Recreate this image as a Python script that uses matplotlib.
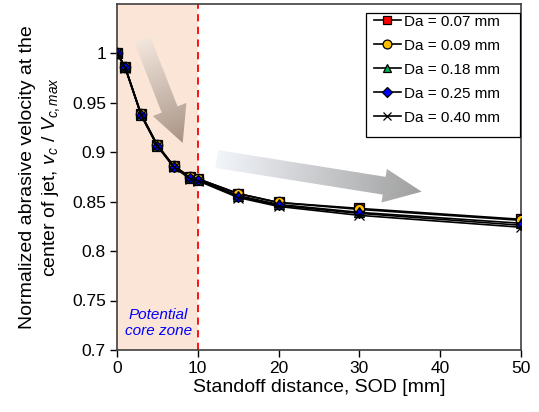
import numpy as np
import matplotlib
matplotlib.use("Agg")
import matplotlib.pyplot as plt
from matplotlib.patches import Polygon, Rectangle
from matplotlib.colors import LinearSegmentedColormap

plt.rcParams['font.family'] = ['Liberation Sans', 'DejaVu Sans']
plt.rcParams['mathtext.fontset'] = 'custom'
plt.rcParams['mathtext.it'] = 'Liberation Sans:italic'
plt.rcParams['mathtext.rm'] = 'Liberation Sans'

# ---------------- data ----------------
sod = [0, 1, 3, 5, 7, 9, 10, 15, 20, 30, 50]
v_007 = [1.000, 0.986, 0.938, 0.907, 0.886, 0.875, 0.873, 0.858, 0.849, 0.843, 0.832]
v_009 = [1.000, 0.986, 0.938, 0.907, 0.886, 0.875, 0.873, 0.858, 0.849, 0.842, 0.831]
v_018 = [1.000, 0.986, 0.937, 0.906, 0.886, 0.874, 0.872, 0.856, 0.847, 0.839, 0.828]
v_025 = [1.000, 0.986, 0.937, 0.906, 0.885, 0.874, 0.872, 0.855, 0.846, 0.838, 0.826]
v_040 = [1.000, 0.985, 0.937, 0.906, 0.885, 0.873, 0.871, 0.854, 0.845, 0.836, 0.824]
labels = ['Da = 0.07 mm', 'Da = 0.09 mm', 'Da = 0.18 mm', 'Da = 0.25 mm', 'Da = 0.40 mm']
xticks = [0, 10, 20, 30, 40, 50]
yticks = [0.7, 0.75, 0.8, 0.85, 0.9, 0.95, 1.0]
ytick_labels = ['0.7', '0.75', '0.8', '0.85', '0.9', '0.95', '1']
core_end = 10

W, H = 539, 412
fig = plt.figure(figsize=(W / 100, H / 100), dpi=100)
ax = fig.add_axes([117 / W, 1 - 350 / H, (521 - 117) / W, (350 - 3.5) / H])

ax.axvspan(0, core_end, color='#FBE5D6', zorder=0, lw=0)
ax.axvline(core_end, color='#FF0000', ls=(0, (4, 3)), lw=1.3, zorder=1)

styles = [
    dict(marker='s', mfc='#FF0000', ms=7.5),
    dict(marker='o', mfc='#FFC000', ms=7.5),
    dict(marker='^', mfc='#00B050', ms=7.5),
    dict(marker='D', mfc='#0000FF', ms=5.5),
    dict(marker='x', mfc='black', ms=7.5),
]
series = [v_007, v_009, v_018, v_025, v_040]
for vals, st, lab in zip(series, styles, labels):
    ax.plot(sod, vals, color='black', lw=1.2, mec='black', mew=0.9, label=lab,
            zorder=3, **st)

ax.set_xlim(0, 50)
ax.set_ylim(0.7, 1.05)
ax.set_xticks(xticks)
ax.set_yticks(yticks)
ax.set_yticklabels(ytick_labels)
ax.tick_params(direction='out', length=5, width=1, labelsize=12.5, pad=3, colors='black')
for s in ax.spines.values():
    s.set_color('#404040')
    s.set_linewidth(1.2)

ax.set_xlabel('Standoff distance, SOD [mm]', fontsize=14, labelpad=2)
ax.set_ylabel('Normalized abrasive velocity at the\ncenter of jet, $v_c$ / $V_{c,max}$',
              fontsize=14, labelpad=7, linespacing=1.3)

ax.text(5.1, 0.7275, 'Potential\ncore zone', color='#0000FF', style='italic',
        fontsize=11, ha='center', va='center', linespacing=1.15, zorder=2)

# ---------------- overlay in pixel coords ----------------
ov = fig.add_axes([0, 0, 1, 1], zorder=5)
ov.set_xlim(0, W)
ov.set_ylim(H, 0)
ov.axis('off')
ov.patch.set_alpha(0)

# legend (manual frame, Excel-like padding)
handles, labs = ax.get_legend_handles_labels()
leg = ov.legend(handles, labs, loc='upper left', bbox_to_anchor=(374 / W, 1 - 14.5 / H),
                bbox_transform=fig.transFigure, borderaxespad=0, borderpad=0,
                fontsize=11, frameon=False, handlelength=1.75, handletextpad=0.2,
                labelspacing=0.66, markerscale=0.85)
ov.add_patch(Rectangle((366, 13), 154, 124, fc='white', ec='black', lw=0.9, zorder=1))
leg.set_zorder(3)


def grad_arrow(tail, tip, w, hw, hl, c0, c1):
    p0 = np.array(tail, float)
    p1 = np.array(tip, float)
    d = p1 - p0
    L = np.hypot(*d)
    u = d / L
    n = np.array([-u[1], u[0]])
    b = p1 - u * hl
    pts = [p0 + n * w / 2, b + n * w / 2, b + n * hw / 2, p1,
           b - n * hw / 2, b - n * w / 2, p0 - n * w / 2]
    poly = Polygon(pts, closed=True, fc='none', ec='none')
    ov.add_patch(poly)
    pts = np.array(pts)
    x0, y0 = pts.min(axis=0) - 2
    x1, y1 = pts.max(axis=0) + 2
    xs = np.linspace(x0, x1, 200)
    ys = np.linspace(y0, y1, 200)
    X, Y = np.meshgrid(xs, ys)
    t = ((X - p0[0]) * u[0] + (Y - p0[1]) * u[1]) / L
    t = np.clip(t, 0, 1)
    cmap = LinearSegmentedColormap.from_list('g', [c0, c1])
    im = ov.imshow(t, extent=[x0, x1, y1, y0], origin='upper', cmap=cmap,
                   vmin=0, vmax=1, aspect='auto', interpolation='bilinear', zorder=0)
    im.set_clip_path(poly)


grad_arrow((142.5, 40), (182.7, 143), 17, 36, 36, '#F3E6DD', '#A89486')
grad_arrow((216.7, 159), (421.7, 191.7), 18, 34, 38, '#F2F5FA', '#A0A0A0')

ov.set_xlim(0, W)
ov.set_ylim(H, 0)

fig.savefig('out.png', dpi=100)
